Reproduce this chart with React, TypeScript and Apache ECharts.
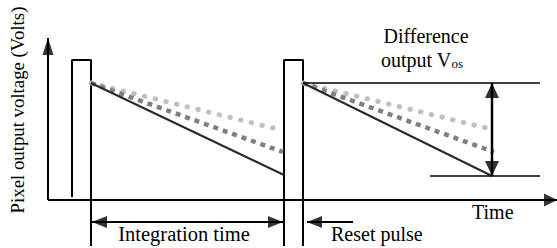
import React, { useEffect, useRef } from "react";
import * as echarts from "echarts";

// Schematic data: t = time units from the origin, v = voltage units above the time axis
const yAxisPath = [[0, 0], [0, 162]];
const xAxisPath = [[0, 0], [509, 0]];
const pulse1 = [[24, 3], [24, 140], [43, 140], [43, -46]];
const pulse2 = [[236, -46], [236, 140], [255, 140], [255, -46]];
const solid1 = [[43, 117], [236, 25]];
const dashed1 = [[43, 117], [235, 48]];
const dotted1 = [[43, 117], [233, 70]];
const solid2 = [[255, 117], [444, 24]];
const dashed2 = [[255, 117], [446, 48]];
const dotted2 = [[255, 117], [438, 72]];
const vosTop = [[255, 117], [492, 117]];
const vosBottom = [[382, 24], [492, 24]];
const vosArrow = [[444, 117], [444, 24]];
const integrationArrow = [[44, -22], [235, -22]];
const resetArrow = [[259, -22], [305, -22]];

const labels = {
  yTitle: "Pixel output voltage (Volts)",
  xTitle: "Time",
  diff: "Difference",
  output: "output V",
  sub: "os",
  integration: "Integration time",
  reset: "Reset pulse",
};

const FONT = "Liberation Serif";

function lineSeries(data: number[][], color: string, width: number, extra: any = {}) {
  return {
    type: "line",
    data,
    symbol: "none",
    silent: true,
    clip: false,
    lineStyle: { color, width, ...extra },
    z: 2,
  };
}

type Head = { p: number[]; dir: "up" | "down" | "left" | "right"; w: number; l: number };

function headItem(h: Head) {
  const rot = { up: 0, down: 180, left: 90, right: -90 }[h.dir];
  const off = {
    up: [0, h.l / 2],
    down: [0, -h.l / 2],
    left: [h.l / 2, 0],
    right: [-h.l / 2, 0],
  }[h.dir];
  return {
    value: h.p,
    symbol: "triangle",
    symbolSize: [h.w, h.l],
    symbolRotate: rot,
    symbolOffset: off,
  };
}

export default function App() {
  const ref = useRef<HTMLDivElement>(null);
  useEffect(() => {
    document.body.style.margin = "0";
    const chart = echarts.init(ref.current!, undefined, { renderer: "svg" });
    const heads: Head[] = [
      { p: yAxisPath[1], dir: "up", w: 11, l: 17 },
      { p: xAxisPath[1], dir: "right", w: 13, l: 13 },
      { p: vosArrow[0], dir: "up", w: 14, l: 15 },
      { p: vosArrow[1], dir: "down", w: 14, l: 15 },
      { p: integrationArrow[0], dir: "left", w: 12, l: 15 },
      { p: integrationArrow[1], dir: "right", w: 12, l: 15 },
      { p: resetArrow[0], dir: "left", w: 12, l: 15 },
    ];
    const txt = (text: string, size: number, align: string) => ({
      text,
      fontFamily: FONT,
      fontSize: size,
      fill: "#000",
      align,
      verticalAlign: "middle",
    });
    chart.setOption({
      animation: false,
      grid: { left: 0, top: 0, right: 0, bottom: 0 },
      xAxis: { type: "value", min: -48, max: 509, show: false },
      yAxis: { type: "value", min: -48, max: 200, show: false },
      series: [
        lineSeries(yAxisPath, "#000", 2),
        lineSeries(xAxisPath, "#000", 2),
        lineSeries(pulse1, "#000", 2),
        lineSeries(pulse2, "#000", 2),
        lineSeries(dotted1, "#c0c0c0", 5, { type: [0.5, 10.5], cap: "round" }),
        lineSeries(dotted2, "#c0c0c0", 5, { type: [0.5, 10.5], cap: "round" }),
        lineSeries(dashed1, "#808080", 4.5, { type: [5, 5] }),
        lineSeries(dashed2, "#808080", 4.5, { type: [5, 5] }),
        lineSeries(solid1, "#2a2a2a", 2),
        lineSeries(solid2, "#2a2a2a", 2),
        lineSeries(vosTop, "#000", 1.6),
        lineSeries(vosBottom, "#000", 1.6),
        lineSeries(vosArrow, "#000", 2.5),
        lineSeries(integrationArrow, "#000", 2),
        lineSeries(resetArrow, "#000", 2),
        {
          type: "scatter",
          silent: true,
          clip: false,
          itemStyle: { color: "#000" },
          data: heads.map(headItem),
          z: 5,
        },
      ],
      graphic: [
        { type: "text", x: 17, y: 110, rotation: Math.PI / 2, style: txt(labels.yTitle, 18.8, "center") },
        { type: "text", x: 426, y: 35.5, style: txt(labels.diff, 20, "center") },
        {
          type: "text",
          x: 381,
          y: 60,
          style: {
            text: "{m|" + labels.output + "}{s|" + labels.sub + "}",
            fill: "#000",
            align: "left",
            verticalAlign: "middle",
            rich: {
              m: { fontFamily: FONT, fontSize: 20, verticalAlign: "bottom", fill: "#000" },
              s: { fontFamily: FONT, fontSize: 13, lineHeight: 13, verticalAlign: "bottom", fill: "#000" },
            },
          },
        },
        { type: "text", x: 184, y: 233.5, style: txt(labels.integration, 20.5, "center") },
        { type: "text", x: 331, y: 233.5, style: txt(labels.reset, 20, "left") },
        { type: "text", x: 472, y: 211.5, style: txt(labels.xTitle, 20, "left") },
      ],
    });
    return () => chart.dispose();
  }, []);
  return <div ref={ref} style={{ position: "absolute", left: 0, top: 0, width: 557, height: 248 }} />;
}
